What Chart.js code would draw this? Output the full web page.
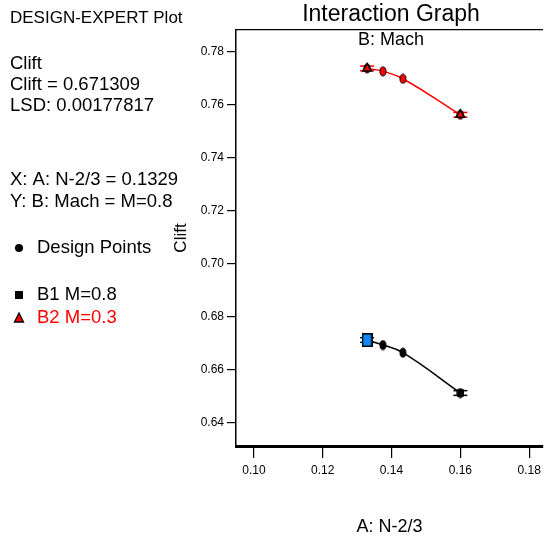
<!DOCTYPE html>
<html>
<head>
<meta charset="utf-8">
<script src="https://cdn.jsdelivr.net/npm/chart.js@4.4.0/dist/chart.umd.min.js"></script>
<style>
  body { margin: 0; background: #fff; }
  canvas { display: block; }
</style>
</head>
<body>
<canvas id="chart" width="546" height="539"></canvas>
<script>
// data
const factorA = [0.1329, 0.1375, 0.1433, 0.1600];   // A: N-2/3
const cliftB2 = [0.7738, 0.7727, 0.7699, 0.7563];   // B2 M=0.3 (red)
const cliftB1 = [0.6713, 0.6694, 0.6665, 0.6513];   // B1 M=0.8 (black)
const lsd = 0.00177817;
const xTicks = [0.10, 0.12, 0.14, 0.16, 0.18];
const yTicks = [0.64, 0.66, 0.68, 0.70, 0.72, 0.74, 0.76, 0.78];

const FONT = "'Liberation Sans', Arial, sans-serif";
const RED = '#ff0000';
const BLUE = '#1087f5';

function pts(xs, ys) { return xs.map((x, i) => ({ x: x, y: ys[i] })); }
function ends(ys) { return [{ x: factorA[0], y: ys[0] }, { x: factorA[3], y: ys[3] }]; }
function lsdBars(ys) {
  const out = [];
  ends(ys).forEach(p => {
    out.push({ x: p.x, y: p.y + lsd / 2 });
    out.push({ x: p.x, y: p.y - lsd / 2 });
  });
  return out;
}

// small ellipse marker for design points
function ellipse(fill) {
  const c = document.createElement('canvas');
  c.width = 8; c.height = 11;
  const g = c.getContext('2d');
  g.beginPath();
  g.ellipse(4, 5.5, 3, 4.5, 0, 0, Math.PI * 2);
  g.fillStyle = fill; g.fill();
  g.lineWidth = 1; g.strokeStyle = '#000'; g.stroke();
  return c;
}
function box(fill, w, h) {
  const c = document.createElement('canvas');
  c.width = w; c.height = h;
  const g = c.getContext('2d');
  g.fillStyle = fill; g.fillRect(0, 0, w, h);
  g.lineWidth = 1.5; g.strokeStyle = '#000'; g.strokeRect(0.75, 0.75, w - 1.5, h - 1.5);
  return c;
}

// side panel, title and legend text
const textPlugin = {
  id: 'texts',
  afterDraw(chart) {
    const ctx = chart.ctx, a = chart.chartArea;
    ctx.save();
    ctx.fillStyle = '#000';
    ctx.textBaseline = 'middle';
    ctx.textAlign = 'center';
    ctx.font = '23px ' + FONT;
    ctx.fillText('Interaction Graph', 391, 15);
    ctx.font = '18px ' + FONT;
    ctx.fillText('B: Mach', 391, 40);

    ctx.textAlign = 'left';
    ctx.font = '17px ' + FONT;
    ctx.fillText('DESIGN-EXPERT Plot', 10, 18);
    ctx.font = '18.5px ' + FONT;
    ctx.fillText('Clift', 10, 64);
    ctx.fillText('Clift = 0.671309', 10, 85);
    ctx.fillText('LSD: 0.00177817', 10, 106);
    ctx.fillText('X: A: N-2/3 = 0.1329', 10, 180);
    ctx.fillText('Y: B: Mach = M=0.8', 10, 202);
    ctx.fillText('Design Points', 37, 248);
    ctx.fillText('B1 M=0.8', 37, 295);
    ctx.fillStyle = RED;
    ctx.fillText('B2 M=0.3', 37, 318);

    ctx.fillStyle = '#000';
    ctx.beginPath(); ctx.arc(19, 248, 4, 0, Math.PI * 2); ctx.fill();
    ctx.fillRect(15, 291, 8, 8);
    ctx.beginPath();
    ctx.moveTo(19, 313); ctx.lineTo(23.5, 322); ctx.lineTo(14.5, 322); ctx.closePath();
    ctx.fillStyle = RED; ctx.fill();
    ctx.lineWidth = 1.3; ctx.strokeStyle = '#000'; ctx.stroke();
    ctx.restore();
  }
};

new Chart(document.getElementById('chart'), {
  type: 'line',
  data: {
    datasets: [
      { data: [{ x: factorA[0], y: cliftB1[0] }], showLine: false,
        pointStyle: box(BLUE, 11, 14), order: 0 },
      { data: [{ x: factorA[3], y: cliftB1[3] }], showLine: false,
        pointStyle: 'rect', pointRadius: 4.5, backgroundColor: '#000', borderColor: '#000', order: 1 },
      { data: ends(cliftB2), showLine: false,
        pointStyle: 'triangle', pointRadius: 5, backgroundColor: RED, borderColor: '#000', borderWidth: 1.5, order: 2 },
      { data: pts(factorA, cliftB2), showLine: false, pointStyle: ellipse(RED), order: 3 },
      { data: pts(factorA.slice(1), cliftB1.slice(1)), showLine: false, pointStyle: ellipse('#000'), order: 3 },
      { data: lsdBars(cliftB2), showLine: false, pointStyle: 'line', pointRadius: 7,
        borderColor: RED, borderWidth: 1.5, order: 4 },
      { data: lsdBars(cliftB1), showLine: false, pointStyle: 'line', pointRadius: 7,
        borderColor: '#000', borderWidth: 1.5, order: 4 },
      { data: pts(factorA, cliftB2), borderColor: RED, borderWidth: 1.5, pointRadius: 0,
        tension: 0.45, order: 5 },
      { data: pts(factorA, cliftB1), borderColor: '#000', borderWidth: 1.5, pointRadius: 0,
        tension: 0.45, order: 5 }
    ]
  },
  options: {
    responsive: false,
    animation: false,
    layout: { autoPadding: false, padding: { left: 171, top: 30, right: -4, bottom: 0 } },
    plugins: { legend: { display: false }, tooltip: { enabled: false } },
    scales: {
      x: {
        type: 'linear', position: 'bottom', min: 0.0948, max: 0.1840,
        afterBuildTicks: s => { s.ticks = xTicks.map(v => ({ value: v })); },
        afterFit: s => { s.height = 93; },
        ticks: { color: '#000', font: { family: FONT, size: 12 }, padding: 5,
          maxRotation: 0, callback: v => v.toFixed(2) },
        grid: { drawOnChartArea: false, drawTicks: true, tickLength: 12, color: '#000', lineWidth: 1.2 },
        border: { display: true, color: '#000', width: 3 },
        title: { display: true, text: 'A: N-2/3', color: '#000',
          font: { family: FONT, size: 18 }, padding: { top: 0, bottom: 1 } }
      },
      xTop: {
        type: 'linear', position: 'top', min: 0.0948, max: 0.1840,
        afterFit: s => { s.height = 0; },
        ticks: { display: false },
        grid: { display: false, drawTicks: false },
        border: { display: true, color: '#000', width: 1.2 }
      },
      y: {
        type: 'linear', position: 'left', min: 0.6313, max: 0.7883,
        afterBuildTicks: s => { s.ticks = yTicks.map(v => ({ value: v })); },
        afterFit: s => { s.width = 65; },
        ticks: { color: '#000', font: { family: FONT, size: 12 }, padding: 3,
          callback: v => v.toFixed(2) },
        grid: { drawOnChartArea: false, drawTicks: true, tickLength: 9, color: '#000', lineWidth: 1.2 },
        border: { display: true, color: '#000', width: 1.5 },
        title: { display: true, text: 'Clift', color: '#000',
          font: { family: FONT, size: 17 }, padding: { top: 0, bottom: 0 } }
      }
    }
  },
  plugins: [textPlugin]
});
</script>
</body>
</html>
